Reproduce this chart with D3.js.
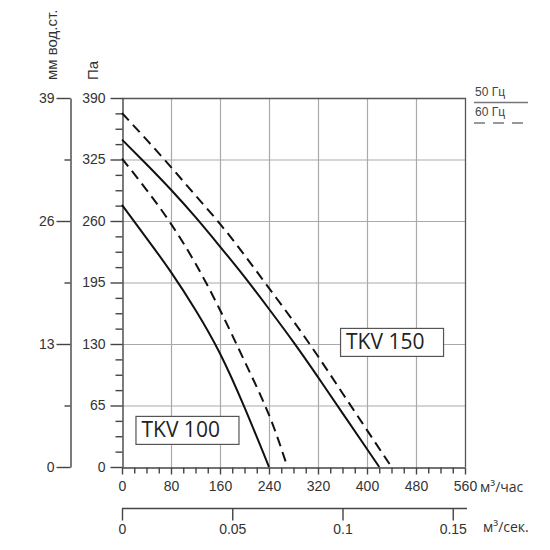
<!doctype html>
<html>
  <head>
    <meta charset="utf-8">
    <title>TKV fan curves</title>
    <script src="https://cdnjs.cloudflare.com/ajax/libs/d3/7.8.5/d3.min.js"></script>
    <style>
      body { margin: 0; background: #fff; }
      text { font-family: "Liberation Sans", Arial, sans-serif; fill: #333; }
      .axis path, .axis line { stroke: #444; }
      .axis text { font-size: 14px; fill: #333; font-family: "Liberation Sans", Arial, sans-serif; }
    </style>
  </head>
  <body>
    <div id="chart"></div>
    <script>
      // data: flow (m3/h) and pressure (Pa)
      const tkv100Flow50 = [0, 40, 80, 120, 160, 200, 240];
      const tkv100Pa50   = [277, 242, 206, 166, 120, 63, 0];
      const tkv100Flow60 = [0, 40, 80, 120, 160, 200, 240, 270];
      const tkv100Pa60   = [326, 293, 257, 215, 166, 112, 55, 0];
      const tkv150Flow50 = [0, 40, 80, 120, 160, 200, 240, 280, 320, 360, 400, 420];
      const tkv150Pa50   = [346, 320, 293, 264, 233, 201, 167, 132, 95, 57, 19, 0];
      const tkv150Flow60 = [0, 40, 80, 120, 160, 200, 240, 280, 320, 360, 400, 440];
      const tkv150Pa60   = [374, 346, 317, 287, 257, 224, 189, 154, 117, 78, 39, 0];

      // tick labels
      const flowTicks = [0, 80, 160, 240, 320, 400, 480, 560];
      const paTicks = [0, 65, 130, 195, 260, 325, 390];
      const mmTicks = [0, 13, 26, 39];
      const secTicks = [0, 0.05, 0.1, 0.15];

      // model labels (name, flow, pressure of top-left corner)
      const modelNames = ['TKV 100', 'TKV 150'];
      const modelFlow = [22, 356];
      const modelPa = [54, 147];

      const legendNames = ['50 Гц', '60 Гц'];

      const W = 550, H = 550;
      const svg = d3.select('#chart').append('svg')
        .attr('width', W).attr('height', H);

      const x = d3.scaleLinear().domain([0, 560]).range([122, 465]);
      const y = d3.scaleLinear().domain([0, 390]).range([467, 98]);
      const xSec = d3.scaleLinear().domain([0, 560 / 3600]).range([122, 465]);
      const yMm = d3.scaleLinear().domain([0, 39]).range([467, 98]);

      // grid
      svg.append('g').selectAll('line')
        .data(flowTicks.slice(1, -1))
        .join('line')
        .attr('x1', d => x(d) + 0.5).attr('x2', d => x(d) + 0.5)
        .attr('y1', y(390)).attr('y2', y(0))
        .attr('stroke', '#aaa').attr('stroke-width', 1.2);
      svg.append('g').selectAll('line')
        .data(paTicks.slice(1, -1))
        .join('line')
        .attr('x1', x(0)).attr('x2', x(560))
        .attr('y1', d => y(d) + 0.5).attr('y2', d => y(d) + 0.5)
        .attr('stroke', '#aaa').attr('stroke-width', 1.2);

      // frame top and right
      svg.append('path')
        .attr('d', `M${x(0)},${y(390) + 0.5}H${x(560) + 0.5}V${y(0)}`)
        .attr('fill', 'none').attr('stroke', '#555').attr('stroke-width', 1.3);

      // Pa axis
      svg.append('g').attr('class', 'axis')
        .attr('transform', `translate(${x(0) + 0.5},0)`)
        .call(d3.axisLeft(y).tickValues(paTicks).tickSize(12).tickSizeOuter(0).tickPadding(5));
      svg.append('g').attr('class', 'axis')
        .attr('transform', `translate(${x(0) + 0.5},0)`)
        .call(d3.axisLeft(y).tickValues(d3.range(0, 390, 16.25).filter(v => v % 65 !== 0))
          .tickSize(7).tickSizeOuter(0).tickFormat(''))
        .select('.domain').remove();

      // mm axis
      svg.append('g').attr('class', 'axis')
        .attr('transform', 'translate(70.5,0)')
        .call(d3.axisLeft(yMm).tickValues(mmTicks).tickSize(14).tickSizeOuter(0).tickPadding(2));
      svg.append('g').attr('class', 'axis')
        .attr('transform', 'translate(70.5,0)')
        .call(d3.axisLeft(yMm).tickValues([6.5, 19.5, 32.5]).tickSize(6).tickFormat(''))
        .select('.domain').remove();

      // flow axis m3/h
      svg.append('g').attr('class', 'axis')
        .attr('transform', `translate(0,${y(0) + 0.5})`)
        .call(d3.axisBottom(x).tickValues(flowTicks).tickSize(7).tickSizeOuter(0).tickPadding(7));
      svg.append('g').attr('class', 'axis')
        .attr('transform', `translate(0,${y(0) + 0.5})`)
        .call(d3.axisBottom(x).tickValues(d3.range(20, 560, 20).filter(v => v % 80 !== 0))
          .tickSize(6).tickFormat(''))
        .select('.domain').remove();

      // flow axis m3/s
      svg.append('g').attr('class', 'axis')
        .attr('transform', 'translate(0,508.5)')
        .call(d3.axisBottom(xSec).tickValues(secTicks).tickSize(12).tickSizeOuter(0).tickPadding(4)
          .tickFormat(d => String(d)))
        .select('.domain').attr('d', `M${x(0)},0H467`);

      svg.selectAll('.axis line, .axis path').attr('stroke-width', 1.4);

      // curves
      const line = d3.line().x(d => x(d[0])).y(d => y(d[1])).curve(d3.curveNatural);
      const curves = [
        { flow: tkv100Flow50, pa: tkv100Pa50, dash: null },
        { flow: tkv100Flow60, pa: tkv100Pa60, dash: '10,6' },
        { flow: tkv150Flow50, pa: tkv150Pa50, dash: null },
        { flow: tkv150Flow60, pa: tkv150Pa60, dash: '10,6' }
      ];
      svg.append('g').selectAll('path')
        .data(curves)
        .join('path')
        .attr('d', c => line(d3.zip(c.flow, c.pa)))
        .attr('fill', 'none')
        .attr('stroke', '#111')
        .attr('stroke-width', 2)
        .attr('stroke-dasharray', c => c.dash);

      // model labels in boxes
      modelNames.forEach((name, i) => {
        const g = svg.append('g');
        g.append('rect')
          .attr('x', x(modelFlow[i]) + 0.5)
          .attr('y', y(modelPa[i]) + 0.5)
          .attr('width', 103)
          .attr('height', 28)
          .attr('fill', '#fff')
          .attr('stroke', '#555')
          .attr('stroke-width', 1.2);
        g.append('text')
          .attr('x', x(modelFlow[i]) + 6)
          .attr('y', y(modelPa[i]) + 21.5)
          .style('font-family', '"Open Sans", sans-serif')
          .style('font-size', '21px')
          .style('fill', '#222')
          .text(name);
      });

      // axis titles
      svg.append('text')
        .attr('transform', 'translate(57,80) rotate(-90)')
        .style('font-size', '15px')
        .text('мм вод.ст.');
      svg.append('text')
        .attr('transform', 'translate(98,80) rotate(-90)')
        .style('font-size', '15px')
        .text('Па');

      // unit labels
      svg.append('text')
        .attr('x', 480).attr('y', 492)
        .style('font-family', '"Open Sans", sans-serif')
        .style('font-size', '14px')
        .text('м³/час');
      svg.append('text')
        .attr('x', 483).attr('y', 532)
        .style('font-family', '"Open Sans", sans-serif')
        .style('font-size', '14px')
        .text('м³/сек.');

      // legend
      legendNames.forEach((name, i) => {
        svg.append('text')
          .attr('x', 475).attr('y', 96 + i * 20)
          .style('font-size', '12px')
          .style('fill', '#444')
          .text(name);
        svg.append('line')
          .attr('x1', 474).attr('x2', 528)
          .attr('y1', 102.5 + i * 20.5).attr('y2', 102.5 + i * 20.5)
          .attr('stroke', '#777')
          .attr('stroke-width', 1.5)
          .attr('stroke-dasharray', i === 1 ? '11,8' : null);
      });
    </script>
  </body>
</html>
